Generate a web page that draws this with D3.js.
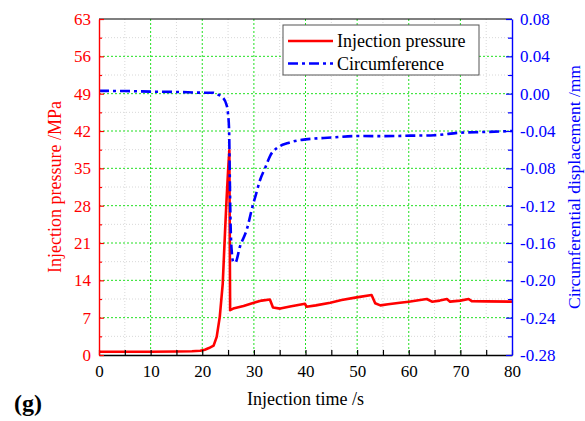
<!DOCTYPE html>
<html><head><meta charset="utf-8">
<script src="https://cdn.jsdelivr.net/npm/d3@7/dist/d3.min.js"></script>
<style>
body{margin:0;background:#fff;}
text{font-family:"Liberation Serif","Times New Roman",serif;}
</style></head>
<body>
<svg id="c" width="585" height="421"></svg>
<script>
// ---- data ----
const pressureTime = [0,5,10,15,18,19.6,20.5,21.3,22.2,22.8,23.4,23.97,24.4,24.7,25.0,25.25,25.4,26,28,30,31.5,33.1,33.7,35.1,37,39.9,40.2,42,44.8,47,49.9,52.8,53.5,54.5,56,58.3,60,62.2,63.5,64.5,66,67.4,68,70,71.6,72.2,75,80];
const pressureValues = [0.6,0.6,0.6,0.65,0.7,0.8,1.0,1.3,1.75,3.4,7.2,13.4,22.8,29,34.5,38.4,8.4,8.7,9.2,9.8,10.2,10.4,8.9,8.7,9.1,9.6,9.06,9.3,9.8,10.3,10.8,11.25,9.7,9.3,9.5,9.8,10.0,10.3,10.5,10.0,10.2,10.5,10.0,10.2,10.5,10.1,10.05,10.0];
const dispTime = [0,5,10,15,19.6,22.1,23,23.8,24.7,25.0,25.2,25.3,25.4,25.5,25.7,26.0,26.4,27.3,28.6,29.9,30.2,31.2,32.3,33.2,34.4,35.1,36.4,38.6,40,45,49.9,55,60.3,65,70,75,80];
const dispValues = [0.003,0.0028,0.0022,0.0018,0.0011,0.001,-0.001,-0.0032,-0.012,-0.022,-0.039,-0.075,-0.114,-0.1425,-0.168,-0.18,-0.181,-0.164,-0.146,-0.1175,-0.112,-0.0925,-0.078,-0.066,-0.0585,-0.056,-0.0532,-0.050,-0.049,-0.047,-0.0454,-0.0455,-0.045,-0.0445,-0.0418,-0.041,-0.040];
const xTicks = [0,10,20,30,40,50,60,70,80];
const yLeftTicks = [0,7,14,21,28,35,42,49,56,63];
const yRightTicks = [-0.28,-0.24,-0.20,-0.16,-0.12,-0.08,-0.04,0.00,0.04,0.08];
const seriesNames = ["Injection pressure","Circumference"];

// ---- layout ----
const L=99,R=512,T=19,B=355;
const FF="Liberation Serif, Times New Roman, serif";
const svg=d3.select("#c");
const x=d3.scaleLinear().domain([0,80]).range([L,R]);
const yL=d3.scaleLinear().domain([0,63]).range([B,T]);
const yR=d3.scaleLinear().domain([-0.28,0.08]).range([B,T]);

const xMinor=xTicks.slice(0,-1).map(v=>v+5);
const yMinor=yLeftTicks.slice(0,-1).map(v=>v+3.5);
const yRMinor=yRightTicks.slice(0,-1).map(v=>v+0.02);

// grid
const g=svg.append("g");
g.selectAll(".vm").data(xMinor).join("line").attr("x1",d=>x(d)).attr("x2",d=>x(d)).attr("y1",T).attr("y2",B)
 .attr("stroke","#d8d8d8").attr("stroke-dasharray","1,2");
g.selectAll(".hm").data(yMinor).join("line").attr("y1",d=>yL(d)).attr("y2",d=>yL(d)).attr("x1",L).attr("x2",R)
 .attr("stroke","#d8d8d8").attr("stroke-dasharray","1,2");
g.selectAll(".vg").data(xTicks.slice(1,-1)).join("line").attr("x1",d=>x(d)).attr("x2",d=>x(d)).attr("y1",T).attr("y2",B)
 .attr("stroke","#22e022").attr("stroke-dasharray","2,2");
g.selectAll(".hg").data(yLeftTicks.slice(1,-1)).join("line").attr("y1",d=>yL(d)).attr("y2",d=>yL(d)).attr("x1",L).attr("x2",R)
 .attr("stroke","#22e022").attr("stroke-dasharray","2,2");

// top border
svg.append("line").attr("x1",L).attr("x2",R).attr("y1",T).attr("y2",T).attr("stroke","#000").attr("stroke-width",1.2);

// lines
const lineP=d3.line().x((d,i)=>x(pressureTime[i])).y(d=>yL(d));
svg.append("path").datum(pressureValues).attr("d",lineP).attr("fill","none").attr("stroke","#ff0000").attr("stroke-width",2.6).attr("stroke-linejoin","round");
const lineD=d3.line().x((d,i)=>x(dispTime[i])).y(d=>yR(d)).curve(d3.curveMonotoneX);
svg.append("path").datum(dispValues).attr("d",lineD).attr("fill","none").attr("stroke","#0000ff").attr("stroke-width",2.6)
 .attr("stroke-dasharray","10,4,3,4");

// axes
const fmtR=d=>d3.format(".2f")(d).replace("\u2212","-");
function styleAxis(sel,color,fs){
  sel.attr("font-family",FF);
  sel.selectAll("path").attr("stroke",color).attr("stroke-width",1.4);
  sel.selectAll("line").attr("stroke",color).attr("stroke-width",1.2);
  sel.selectAll("text").attr("fill",color).attr("font-size",fs).attr("font-family",FF);
}
const ax=svg.append("g").attr("transform",`translate(0,${B})`)
 .call(d3.axisBottom(x).tickValues(xTicks).tickSizeInner(-5).tickSizeOuter(0).tickPadding(10));
styleAxis(ax,"#000",17);
const axm=svg.append("g").attr("transform",`translate(0,${B})`)
 .call(d3.axisBottom(x).tickValues(xMinor).tickSize(-5).tickFormat(""));
styleAxis(axm,"#000",17); axm.select("path").remove();

const ayl=svg.append("g").attr("transform",`translate(${L},0)`)
 .call(d3.axisLeft(yL).tickValues(yLeftTicks).tickSizeInner(-5).tickSizeOuter(0).tickPadding(8));
styleAxis(ayl,"#ff0000",17);
const aylm=svg.append("g").attr("transform",`translate(${L},0)`)
 .call(d3.axisLeft(yL).tickValues(yMinor).tickSize(-3).tickFormat(""));
styleAxis(aylm,"#ff0000",17); aylm.select("path").remove();

const ayr=svg.append("g").attr("transform",`translate(${R},0)`)
 .call(d3.axisRight(yR).tickValues(yRightTicks).tickFormat(fmtR).tickSizeInner(-6).tickSizeOuter(0).tickPadding(8));
styleAxis(ayr,"#0000ff",17);
const ayrm=svg.append("g").attr("transform",`translate(${R},0)`)
 .call(d3.axisRight(yR).tickValues(yRMinor).tickSize(-4).tickFormat(""));
styleAxis(ayrm,"#0000ff",17); ayrm.select("path").remove();

// titles
svg.append("text").attr("x",(L+R)/2).attr("y",399).attr("text-anchor","middle").attr("dominant-baseline","central")
 .attr("font-size",18).text("Injection time /s");
svg.append("text").attr("transform",`translate(55,${(T+B)/2}) rotate(-90)`).attr("text-anchor","middle").attr("dominant-baseline","central")
 .attr("font-size",18).attr("fill","#ff0000").text("Injection pressure /MPa");
svg.append("text").attr("transform",`translate(574,${(T+B)/2}) rotate(-90)`).attr("text-anchor","middle").attr("dominant-baseline","central")
 .attr("font-size",17.5).attr("fill","#0000ff").text("Circumferential displacement /mm");
svg.append("text").attr("x",14).attr("y",411).attr("font-size",24).attr("font-weight","bold").text("(g)");

// legend
const lg=svg.append("g");
lg.append("rect").attr("x",283).attr("y",25).attr("width",196).attr("height",50).attr("fill","#fff").attr("stroke","#555").attr("stroke-width",1);
const lc=["#ff0000","#0000ff"], ld=[null,"10,4,3,4"];
seriesNames.forEach((n,i)=>{
  const yy=41+i*22.5;
  const l=lg.append("line").attr("x1",288).attr("x2",333).attr("y1",yy).attr("y2",yy).attr("stroke",lc[i]).attr("stroke-width",2.6);
  if(ld[i]) l.attr("stroke-dasharray",ld[i]);
  lg.append("text").attr("x",337).attr("y",yy).attr("dominant-baseline","central").attr("font-size",18).text(n);
});
</script>
</body></html>
